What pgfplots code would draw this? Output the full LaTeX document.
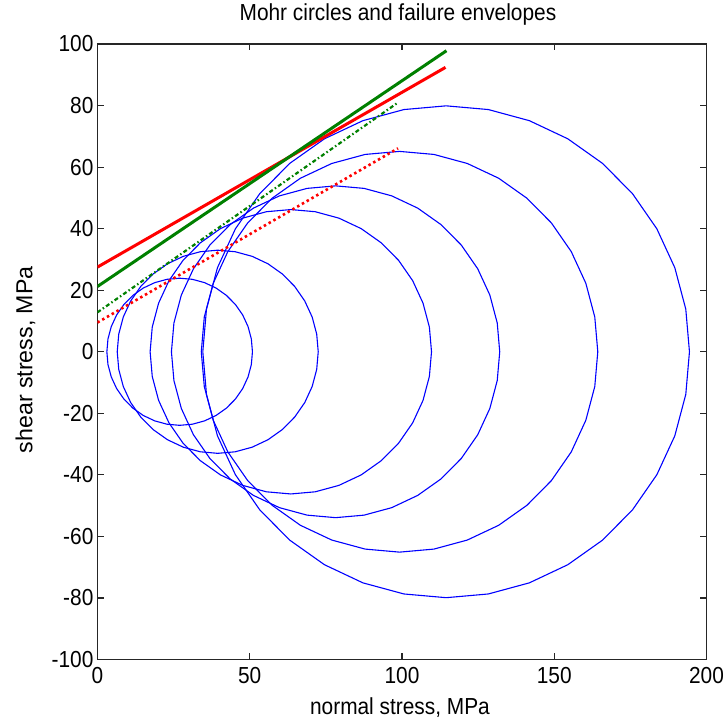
\documentclass[border=0pt]{standalone}
\usepackage{fontspec}
\setmainfont{Liberation Sans}[FakeStretch=0.9]
\newfontfamily\ylabfont{Liberation Sans}
\usepackage{pgfplots}
\pgfplotsset{compat=1.18}
\definecolor{mblue}{rgb}{0,0,1}
\definecolor{mred}{rgb}{1,0,0}
\definecolor{mgreen}{rgb}{0,0.5,0}
\begin{document}
\begin{tikzpicture}
\path[use as bounding box] (-97.5pt,-64pt) rectangle (627pt,660pt);
\begin{axis}[
  at={(0,0)}, anchor=south west,
  scale only axis, width=609.5pt, height=616pt,
  xmin=0, xmax=200, ymin=-100, ymax=100,
  xtick={0,50,100,150,200},
  ytick={-100,-80,-60,-40,-20,0,20,40,60,80,100},
  tick align=inside,
  major tick length=6.5pt,
  axis line style={black!85, line width=1.1pt},
  tick style={black!85, line width=1.1pt},
  /pgf/number format/assume math mode=true,
  tick label style={font=\fontsize{23.2}{27}\selectfont, text=black},
  xticklabel shift=4pt,
  yticklabel shift=0.5pt,
  title={Mohr circles and failure envelopes},
  title style={at={(axis description cs:0.5,1)}, anchor=base, yshift=17.3pt, xshift=-4pt, font=\fontsize{23.2}{27}\selectfont},
  xlabel={normal stress, MPa},
  xlabel style={at={(axis description cs:0.5,0)}, anchor=base, yshift=-55pt, xshift=-2pt, font=\fontsize{23.2}{27}\selectfont},
  ylabel={shear stress, MPa},
  ylabel style={at={([xshift=-65.2pt]axis description cs:0,0.487)}, anchor=base, font=\ylabfont\fontsize{23.2}{27}\selectfont},
]
% Mohr circles
\addplot[mblue, line width=1.1pt, mark=none] coordinates {
(50.90,0) (50.54,4.15) (49.46,8.17) (47.70,11.95) (45.31,15.36) (42.36,18.31) (38.95,20.70) (35.17,22.46) (31.15,23.54) (27.00,23.90) (22.85,23.54) (18.83,22.46) (15.05,20.70) (11.64,18.31) (8.69,15.36) (6.30,11.95) (4.54,8.17) (3.46,4.15) (3.10,0) (3.46,-4.15) (4.54,-8.17) (6.30,-11.95) (8.69,-15.36) (11.64,-18.31) (15.05,-20.70) (18.83,-22.46) (22.85,-23.54) (27.00,-23.90) (31.15,-23.54) (35.17,-22.46) (38.95,-20.70) (42.36,-18.31) (45.31,-15.36) (47.70,-11.95) (49.46,-8.17) (50.54,-4.15) (50.90,0)
};
\addplot[mblue, line width=1.1pt, mark=none] coordinates {
(72.50,0) (72.00,5.73) (70.51,11.29) (68.08,16.50) (64.78,21.21) (60.71,25.28) (56.00,28.58) (50.79,31.01) (45.23,32.50) (39.50,33.00) (33.77,32.50) (28.21,31.01) (23.00,28.58) (18.29,25.28) (14.22,21.21) (10.92,16.50) (8.49,11.29) (7.00,5.73) (6.50,0) (7.00,-5.73) (8.49,-11.29) (10.92,-16.50) (14.22,-21.21) (18.29,-25.28) (23.00,-28.58) (28.21,-31.01) (33.77,-32.50) (39.50,-33.00) (45.23,-32.50) (50.79,-31.01) (56.00,-28.58) (60.71,-25.28) (64.78,-21.21) (68.08,-16.50) (70.51,-11.29) (72.00,-5.73) (72.50,0)
};
\addplot[mblue, line width=1.1pt, mark=none] coordinates {
(109.70,0) (109.00,8.02) (106.91,15.80) (103.51,23.10) (98.89,29.70) (93.20,35.39) (86.60,40.01) (79.30,43.41) (71.52,45.50) (63.50,46.20) (55.48,45.50) (47.70,43.41) (40.40,40.01) (33.80,35.39) (28.11,29.70) (23.49,23.10) (20.09,15.80) (18.00,8.02) (17.30,0) (18.00,-8.02) (20.09,-15.80) (23.49,-23.10) (28.11,-29.70) (33.80,-35.39) (40.40,-40.01) (47.70,-43.41) (55.48,-45.50) (63.50,-46.20) (71.52,-45.50) (79.30,-43.41) (86.60,-40.01) (93.20,-35.39) (98.89,-29.70) (103.51,-23.10) (106.91,-15.80) (109.00,-8.02) (109.70,0)
};
\addplot[mblue, line width=1.1pt, mark=none] coordinates {
(132.10,0) (131.28,9.36) (128.85,18.43) (124.88,26.95) (119.49,34.65) (112.85,41.29) (105.15,46.68) (96.63,50.65) (87.56,53.08) (78.20,53.90) (68.84,53.08) (59.77,50.65) (51.25,46.68) (43.55,41.29) (36.91,34.65) (31.52,26.95) (27.55,18.43) (25.12,9.36) (24.30,0) (25.12,-9.36) (27.55,-18.43) (31.52,-26.95) (36.91,-34.65) (43.55,-41.29) (51.25,-46.68) (59.77,-50.65) (68.84,-53.08) (78.20,-53.90) (87.56,-53.08) (96.63,-50.65) (105.15,-46.68) (112.85,-41.29) (119.49,-34.65) (124.88,-26.95) (128.85,-18.43) (131.28,-9.36) (132.10,0)
};
\addplot[mblue, line width=1.1pt, mark=none] coordinates {
(164.30,0) (163.31,11.30) (160.37,22.26) (155.58,32.55) (149.07,41.85) (141.05,49.87) (131.75,56.38) (121.46,61.17) (110.50,64.11) (99.20,65.10) (87.90,64.11) (76.94,61.17) (66.65,56.38) (57.35,49.87) (49.33,41.85) (42.82,32.55) (38.03,22.26) (35.09,11.30) (34.10,0) (35.09,-11.30) (38.03,-22.26) (42.82,-32.55) (49.33,-41.85) (57.35,-49.87) (66.65,-56.38) (76.94,-61.17) (87.90,-64.11) (99.20,-65.10) (110.50,-64.11) (121.46,-61.17) (131.75,-56.38) (141.05,-49.87) (149.07,-41.85) (155.58,-32.55) (160.37,-22.26) (163.31,-11.30) (164.30,0)
};
\addplot[mblue, line width=1.1pt, mark=none] coordinates {
(194.40,0) (193.19,13.87) (189.58,27.33) (183.69,39.95) (175.70,51.36) (165.86,61.20) (154.45,69.19) (141.83,75.08) (128.37,78.69) (114.50,79.90) (100.63,78.69) (87.17,75.08) (74.55,69.19) (63.14,61.20) (53.30,51.36) (45.31,39.95) (39.42,27.33) (35.81,13.87) (34.60,0) (35.81,-13.87) (39.42,-27.33) (45.31,-39.95) (53.30,-51.36) (63.14,-61.20) (74.55,-69.19) (87.17,-75.08) (100.63,-78.69) (114.50,-79.90) (128.37,-78.69) (141.83,-75.08) (154.45,-69.19) (165.86,-61.20) (175.70,-51.36) (183.69,-39.95) (189.58,-27.33) (193.19,-13.87) (194.40,0)
};
% failure envelopes
\addplot[mred, line width=3pt, mark=none] coordinates {(0,27.5) (114.3,92.4)};
\addplot[mgreen, line width=3pt, mark=none] coordinates {(0,21.2) (114.6,97.8)};
\addplot[mgreen, line width=2.2pt, mark=none, dash pattern=on 4pt off 2.5pt on 1.5pt off 2.5pt] coordinates {(0,12.8) (98.6,80.9)};
\addplot[mred, line width=2.6pt, mark=none, dash pattern=on 2.5pt off 3pt] coordinates {(0,9.5) (98.7,66.1)};
\end{axis}
\end{tikzpicture}
\end{document}
